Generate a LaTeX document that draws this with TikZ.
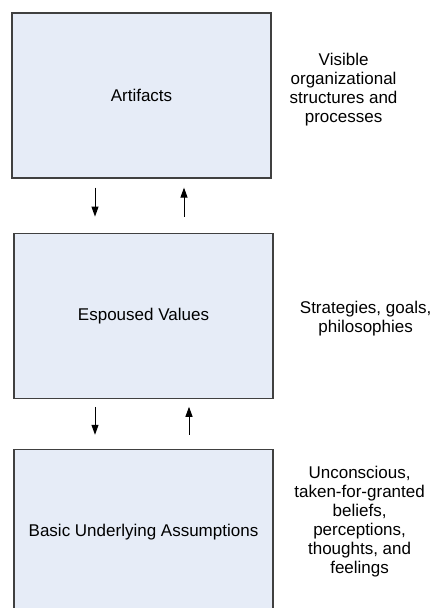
\documentclass[tikz,border=0pt]{standalone}
\usepackage{fontspec}
\setmainfont{Liberation Sans}
\usetikzlibrary{positioning}
\usetikzlibrary{arrows.meta}
\usetikzlibrary{shadows}

\definecolor{layerfill}{RGB}{230,236,247}

\begin{document}
\begin{tikzpicture}[x=1pt,y=1pt,
  layer/.style={draw=black!75, line width=1.2pt, fill=layerfill,
    minimum width=259pt, minimum height=165pt, inner sep=0pt,
    font=\fontsize{17}{19}\selectfont,
    drop shadow={shadow xshift=1.2pt, shadow yshift=-1.2pt, fill=black!40, opacity=1}},
  note/.style={align=center, font=\fontsize{17}{19}\selectfont},
  flow/.style={-{Triangle[length=10pt,width=7pt]}, line width=1pt}]
\useasboundingbox (0,0) rectangle (436,608);

% the three levels
\node[layer] (art) at (141.5,512.5) {Artifacts};
\node[layer, below=54pt of art, xshift=2pt] (esp) {Espoused Values};
\node[layer, below=50pt of esp] (bua) {Basic Underlying Assumptions};

% what each level holds
\node[note] (artnote) at ([xshift=72pt,yshift=6pt]art.east) {Visible\\organizational\\structures and\\processes};
\node[note] (espnote) at ([xshift=92pt,yshift=-2.5pt]esp.east) {Strategies, goals,\\philosophies};
\node[note] (buanote) at ([xshift=86pt,yshift=10.5pt]bua.east) {Unconscious,\\taken-for-granted\\beliefs,\\perceptions,\\thoughts, and\\feelings};

% links between the levels
\draw[flow, shorten <=9pt, shorten >=16pt] ([xshift=-46.5pt]art.south) -- ([xshift=-46.5pt]art.south |- esp.north);
\draw[flow, shorten <=16pt, shorten >=9pt] ([xshift=42.5pt]art.south |- esp.north) -- ([xshift=42.5pt]art.south);
\draw[flow, shorten <=8pt, shorten >=14pt] ([xshift=-48.5pt]esp.south) -- ([xshift=-48.5pt]esp.south |- bua.north);
\draw[flow, shorten <=14pt, shorten >=8pt] ([xshift=45.5pt]esp.south |- bua.north) -- ([xshift=45.5pt]esp.south);
\end{tikzpicture}
\end{document}
